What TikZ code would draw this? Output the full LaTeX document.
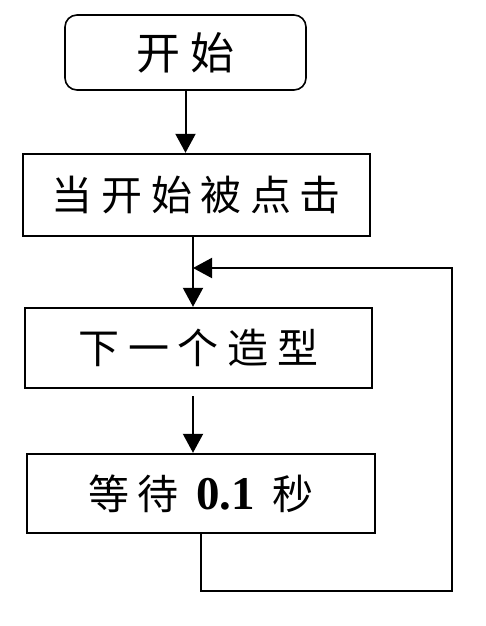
\documentclass[tikz,border=0pt]{standalone}
\usepackage{fontspec}
\newfontfamily\cjkfont[LetterSpace=21]{Noto Sans CJK SC}
\newfontfamily\numfont{Liberation Serif}
\usetikzlibrary{arrows.meta,positioning,calc}

\begin{document}
\begin{tikzpicture}[x=1pt, y=-1pt,
    box/.style={draw, line width=2.4pt, minimum width=347pt,
      font=\cjkfont\fontsize{41}{44}\selectfont},
    line/.style={line width=2pt},
    flow/.style={line width=2pt, -{Triangle[length=19pt,width=20pt]}}]
    \useasboundingbox (0,0) rectangle (485,626);
    \node[box, line width=1.6pt, rounded corners=12pt, minimum width=241pt,
      minimum height=75pt, font=\cjkfont\fontsize{44}{46}\selectfont]
      (start) at (185.5,52.5) {开始};
    \node[box, minimum height=82pt] (click) at (196.5,195) {当开始被点击};
    \node[box, minimum height=80pt] (next) at (198.5,348) {下一个造型};
    \node[box, minimum width=348pt, minimum height=79pt] (wait) at (201,493.5)
      {等待 {\numfont\bfseries\fontsize{47}{46}\selectfont 0.1} 秒};
    \coordinate (join) at (193,268);
    \coordinate (drop) at (201,591);
    \coordinate (turn) at (452,591);
    \draw[flow] (start.south) -- (click.north -| start.south);
    \draw[line] (click.south -| join) -- (join);
    \draw[flow] (join) -- (next.north -| join);
    \draw[flow] ([yshift=-7pt]next.south -| join) -- (wait.north -| join);
    \draw[flow] (wait.south -| drop) -- (drop) -- (turn) -- (turn |- join) -- (join);
\end{tikzpicture}
\end{document}
